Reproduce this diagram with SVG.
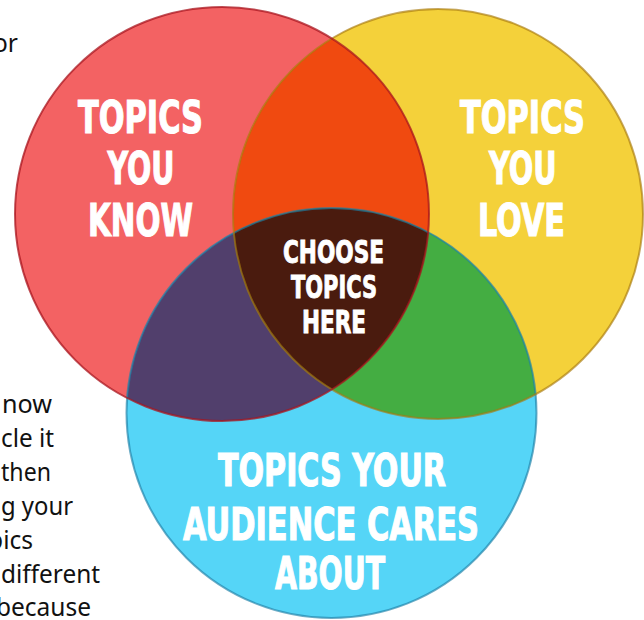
<svg xmlns="http://www.w3.org/2000/svg" width="644" height="620" viewBox="0 0 644 620">
<style>
.hd{font-family:"Liberation Sans Narrow","DejaVu Sans Condensed","Roboto","Liberation Sans",sans-serif;font-weight:bold;fill:#ffffff;stroke:#ffffff;stroke-width:1.1;font-size:45px}
.hc{font-size:32px;stroke-width:0.9}
.hb{font-size:44px}
.body{font-family:"Noto Sans","Open Sans","Liberation Sans",sans-serif;font-size:24.5px;fill:#111111;text-anchor:end}
.ol{fill:none;stroke-width:2}
</style>
<defs>
<clipPath id="cR"><circle cx="222" cy="214" r="207"/></clipPath>
<clipPath id="cY"><circle cx="438" cy="214" r="205"/></clipPath>
<clipPath id="cB"><circle cx="331.5" cy="413" r="205"/></clipPath>
</defs>
<rect width="644" height="620" fill="#ffffff"/>
<g id="body-text">
<text class="body" x="18" y="52">or</text>
<text class="body" x="52" y="413" textLength="50" lengthAdjust="spacingAndGlyphs">now</text>
<text class="body" x="54" y="447" textLength="53" lengthAdjust="spacingAndGlyphs">cle it</text>
<text class="body" x="51" y="481" textLength="50" lengthAdjust="spacingAndGlyphs">then</text>
<text class="body" x="73" y="515" textLength="72" lengthAdjust="spacingAndGlyphs">g your</text>
<text class="body" x="33" y="549">pics</text>
<text class="body" x="100" y="582.5" textLength="99" lengthAdjust="spacingAndGlyphs">different</text>
<text class="body" x="91" y="616">because</text>
</g>
<g id="node-know">
<circle cx="222" cy="214" r="207" fill="#F36263"/>
<text class="hd" x="78" y="132.5" textLength="125" lengthAdjust="spacingAndGlyphs">TOPICS</text>
<text class="hd" x="107.5" y="184" textLength="67" lengthAdjust="spacingAndGlyphs">YOU</text>
<text class="hd" x="88" y="235.5" textLength="105" lengthAdjust="spacingAndGlyphs">KNOW</text>
</g>
<g id="node-love">
<circle cx="438" cy="214" r="205" fill="#F4D13A"/>
<text class="hd" x="460" y="132.5" textLength="125" lengthAdjust="spacingAndGlyphs">TOPICS</text>
<text class="hd" x="489" y="184" textLength="67.5" lengthAdjust="spacingAndGlyphs">YOU</text>
<text class="hd" x="478" y="236" textLength="87" lengthAdjust="spacingAndGlyphs">LOVE</text>
</g>
<g id="node-audience">
<circle cx="331.5" cy="413" r="205" fill="#55D5F7"/>
<text class="hd hb" x="218" y="486" textLength="228" lengthAdjust="spacingAndGlyphs">TOPICS YOUR</text>
<text class="hd hb" x="183" y="539.5" textLength="296" lengthAdjust="spacingAndGlyphs">AUDIENCE CARES</text>
<text class="hd hb" x="275" y="589" textLength="110" lengthAdjust="spacingAndGlyphs">ABOUT</text>
</g>
<g id="region-know-love" clip-path="url(#cR)">
<circle cx="438" cy="214" r="205" fill="#F04A10"/>
</g>
<g id="region-know-audience" clip-path="url(#cR)">
<circle cx="331.5" cy="413" r="205" fill="#513F6C"/>
</g>
<g id="region-love-audience" clip-path="url(#cY)">
<circle cx="331.5" cy="413" r="205" fill="#44AD42"/>
</g>
<g id="node-center">
<g clip-path="url(#cR)"><g clip-path="url(#cY)">
<circle cx="331.5" cy="413" r="205" fill="#4A1B0E"/>
</g></g>
<text class="hd hc" x="283" y="262.5" textLength="101" lengthAdjust="spacingAndGlyphs">CHOOSE</text>
<text class="hd hc" x="291" y="298" textLength="86" lengthAdjust="spacingAndGlyphs">TOPICS</text>
<text class="hd hc" x="302" y="333" textLength="64" lengthAdjust="spacingAndGlyphs">HERE</text>
</g>
<g id="outlines">
<circle class="ol" cx="331.5" cy="413" r="205" stroke="#1E7FA6" stroke-opacity="0.65"/>
<circle class="ol" cx="438" cy="214" r="205" stroke="#A87A10" stroke-opacity="0.65"/>
<circle class="ol" cx="222" cy="214" r="207" stroke="#A8141E" stroke-opacity="0.75"/>
</g>
</svg>
